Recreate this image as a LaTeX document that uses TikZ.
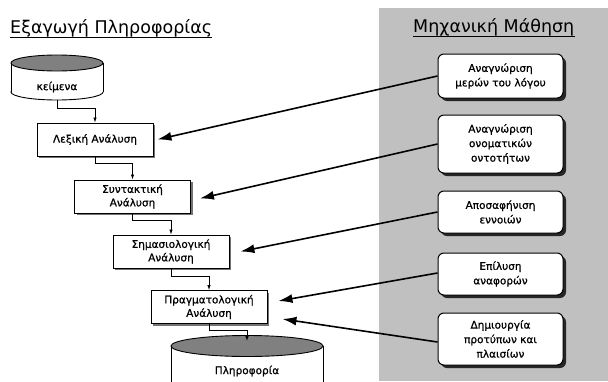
\documentclass[tikz,border=0pt]{standalone}
\usepackage{fontspec}
\setmainfont{DejaVu Sans}
\newfontfamily\boxfont[FakeBold=0.9]{DejaVu Sans}
\usetikzlibrary{shadows,arrows.meta,calc}
\definecolor{panelgray}{RGB}{192,192,192}
\definecolor{cylgray}{RGB}{128,128,128}
\begin{document}
\begin{tikzpicture}[x=1pt,y=-1pt,
 lbox/.style={draw,line width=0.9pt,fill=white,minimum width=116pt,minimum height=33pt,align=center,
   font=\boxfont\fontsize{10.5}{13.5}\selectfont,inner sep=2pt,
   drop shadow={shadow xshift=2pt,shadow yshift=-2pt,fill=black!55,opacity=1}},
 rbox/.style={draw,line width=1pt,fill=white,rounded corners=6pt,minimum width=125pt,align=center,
   font=\boxfont\fontsize{10.5}{14.5}\selectfont,inner sep=2pt,
   drop shadow={shadow xshift=3pt,shadow yshift=-3pt,fill=black!85,opacity=1}},
 flow/.style={-{Latex[length=5pt,width=3.5pt]},line width=0.8pt},
 big/.style={-{Latex[length=14pt,width=9pt]},line width=1.6pt},
 ttl/.style={inner sep=0pt,font=\fontsize{17.5}{18}\selectfont},
 cyltext/.style={font=\boxfont\fontsize{10.5}{12}\selectfont,inner sep=1pt}
]
\useasboundingbox (0,0) rectangle (608,381);
\clip (0,0) rectangle (608,381);
% panel
\fill[panelgray] (379,8) rectangle (608,381);
% titles
\node[ttl,anchor=base west] (t1) at (10,33) {Εξαγωγή Πληροφορίας};
\draw[line width=0.9pt] ([yshift=-1pt]t1.south west) -- ([yshift=-1pt]t1.south east);
\node[ttl,anchor=base west] (t2) at (413,32) {Μηχανική Μάθηση};
\draw[line width=0.9pt] ([yshift=-1pt]t2.south west) -- ([yshift=-1pt]t2.south east);
% top cylinder
\filldraw[fill=white,line width=0.9pt] (57,92) ellipse [x radius=46,y radius=8];
\fill[white] (11,63) rectangle (103,92);
\draw[line width=0.9pt] (11,63) -- (11,92) (103,63) -- (103,92);
\filldraw[fill=cylgray,line width=0.9pt] (57,63) ellipse [x radius=46,y radius=8];
\node[cyltext] (c1) at (57,87) {κείμενα};
\coordinate (c1b) at (57,100);
% bottom cylinder
\filldraw[fill=white,line width=0.9pt] (247,392) ellipse [x radius=76,y radius=10];
\fill[white] (171,346) rectangle (323,392);
\draw[line width=0.9pt] (171,346) -- (171,392) (323,346) -- (323,392);
\filldraw[fill=cylgray,line width=0.9pt] (247,346) ellipse [x radius=76,y radius=10.5];
\node[cyltext] (c2) at (247,371) {Πληροφορία};
\coordinate (c2t) at (247,341);
% left boxes
\node[lbox] (l1) at (95,139.5) {Λεξική Ανάλυση};
\node[lbox] (l2) at (132.5,196.5) {Συντακτική\\Ανάλυση};
\node[lbox] (l3) at (171,251.5) {Σημασιολογική\\Ανάλυση};
\node[lbox] (l4) at (209,307) {Πραγματολογική\\Ανάλυση};
% flow
\draw[flow] (c1b) -- ++(0,8) -| (l1.north);
\draw[flow] (l1.south) -- ++(0,7) -| (l2.north);
\draw[flow] (l2.south) -- ++(0,7) -| (l3.north);
\draw[flow] (l3.south) -- ++(0,8) -| (l4.north);
\draw[flow] (l4.south) -- ++(0,6) -| (c2t);
% right boxes
\node[rbox,minimum height=44pt] (r1) at (500.5,76) {Αναγνώριση\\μερών του λόγου};
\node[rbox,minimum height=58pt] (r2) at (500.5,144) {Αναγνώριση\\ονοματικών\\οντοτήτων};
\node[rbox,minimum height=42pt] (r3) at (500.5,212) {Αποσαφήνιση\\εννοιών};
\node[rbox,minimum height=42pt] (r4) at (500.5,274) {Επίλυση\\αναφορών};
\node[rbox,minimum height=52pt] (r5) at (500.5,339) {Δημιουργία\\προτύπων και\\πλαισίων};
% arrows
\draw[big] (r1.west) -- ([xshift=4pt]l1.east);
\draw[big] (r2.west) -- ([xshift=9pt,yshift=-2pt]l2.east);
\draw[big] (r3.west) -- ([xshift=11pt]l3.east);
\draw[big] ([yshift=1pt]r4.west) -- ([xshift=11pt,yshift=6pt]l4.east);
\draw[big] ([yshift=-3pt]r5.west) -- ([xshift=15pt,yshift=-12pt]l4.east);
\end{tikzpicture}
\end{document}
